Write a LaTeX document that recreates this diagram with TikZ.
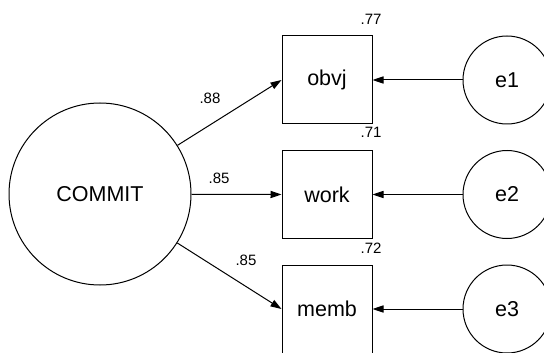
\documentclass[tikz,border=0pt]{standalone}
\usepackage{fontspec}
\setmainfont{Liberation Sans}
\usetikzlibrary{arrows.meta}
\begin{document}
\begin{tikzpicture}[x=0.5pt,y=-0.5pt,line width=0.5pt,
		>={Triangle[length=5.5pt,width=3.6pt]},
		font=\fontsize{10.75}{12}\selectfont,
		obs/.style={draw,minimum width=45pt,minimum height=44pt,inner sep=0pt},
		lat/.style={draw,circle,minimum size=#1,inner sep=0pt},
		coef/.style={font=\fontsize{7.5}{9}\selectfont,inner sep=0pt}]
				\useasboundingbox (0,0) rectangle (544,352);
				\node[lat=91pt] (COMMIT) at (100,194) {COMMIT};
				\foreach \v/\e/\y/\r/\ry in {obvj/e1/80/.77/19, work/e2/194.5/.71/132.5, memb/e3/309/.72/248}{
					\node[obs] (\v) at (327,\y) {\v};
					\node[lat=44pt] (\e) at (507,\y) {\e};
					\node[coef] (r\v) at (371,\ry) {\r};
					\draw[->] (\e) -- (\v);
					\draw[->] (COMMIT) -- (\v.west);
				}
				\foreach \n/\x/\y/\t in {lobvj/210/98/.88, lwork/219/178/.85, lmemb/246/260/.85}{
					\node[coef] (\n) at (\x,\y) {\t};
				}
			\end{tikzpicture}
\end{document}
